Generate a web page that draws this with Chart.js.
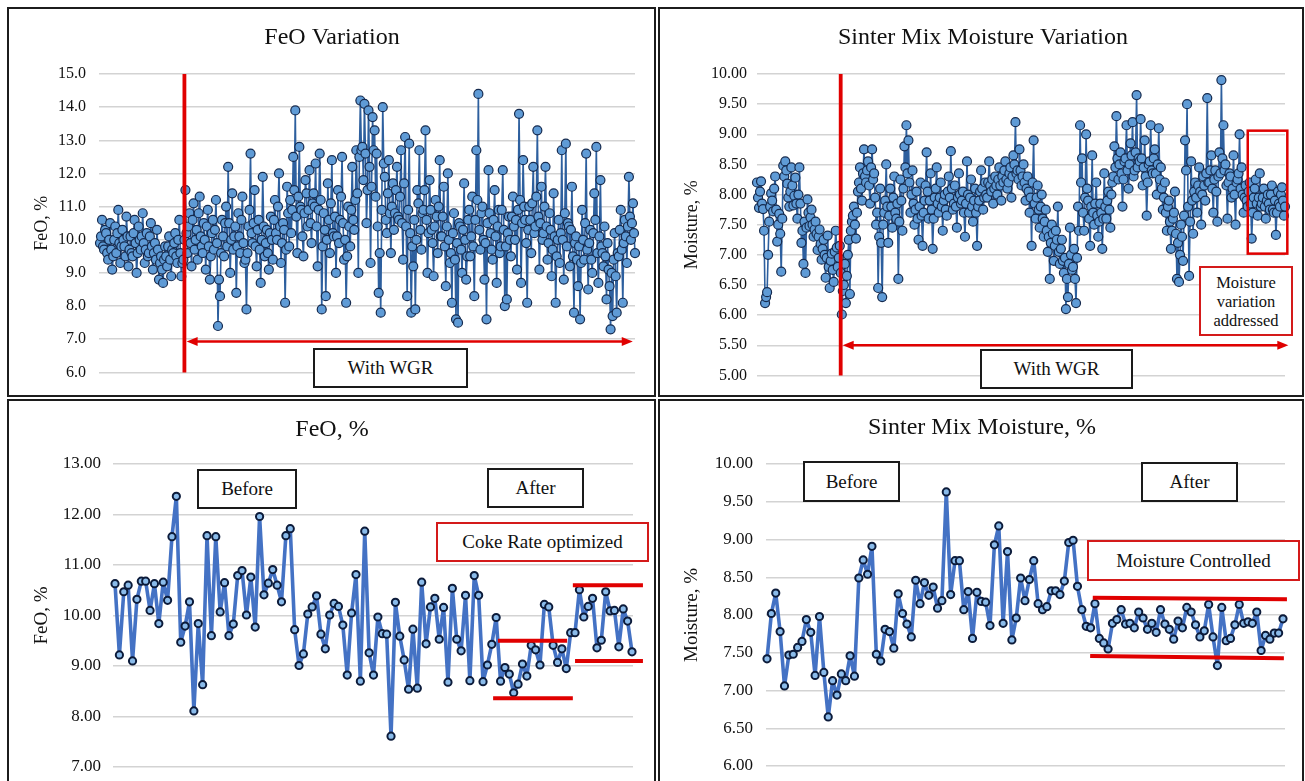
<!DOCTYPE html>
<html><head><meta charset="utf-8">
<script src="https://cdn.jsdelivr.net/npm/chart.js@4.4.1/dist/chart.umd.min.js"></script>
<style>
html,body{margin:0;padding:0;background:#fff;width:1305px;height:781px;overflow:hidden;position:relative;}
.panel{position:absolute;box-sizing:border-box;border:2px solid #1c1c1c;}
canvas{position:absolute;}
.box{position:absolute;box-sizing:border-box;background:#fff;display:flex;align-items:center;justify-content:center;text-align:center;font-family:'Liberation Serif','Times New Roman',serif;font-size:19px;color:#111;z-index:5;}
.blk{border:2px solid #1a1a1a;}
.red{border:2px solid #d41a1a;}
</style></head><body>
<div class="panel" style="left:7px;top:7px;width:649px;height:390px"></div>
<div class="panel" style="left:658px;top:7px;width:646px;height:390px"></div>
<div class="panel" style="left:7px;top:399px;width:649px;height:420px"></div>
<div class="panel" style="left:658px;top:399px;width:646px;height:420px"></div>
<canvas id="c1"></canvas><canvas id="c2"></canvas><canvas id="c3"></canvas><canvas id="c4"></canvas>
<div class="box blk" style="left:313px;top:348px;width:155px;height:40px">With WGR</div>
<div class="box blk" style="left:980px;top:349px;width:153px;height:40px">With WGR</div>
<div class="box red" style="left:1199px;top:266px;width:94px;height:70px;font-size:16.5px;line-height:19px">Moisture<br>variation<br>addressed</div>
<div class="box blk" style="left:197px;top:469px;width:100px;height:40px">Before</div>
<div class="box blk" style="left:487px;top:468px;width:97px;height:40px">After</div>
<div class="box red" style="left:436px;top:522px;width:213px;height:40px">Coke Rate optimized</div>
<div class="box blk" style="left:803px;top:461px;width:97px;height:41px">Before</div>
<div class="box blk" style="left:1141px;top:462px;width:97px;height:40px">After</div>
<div class="box red" style="left:1087px;top:540px;width:213px;height:41px">Moisture Controlled</div>
<script>
const SERIF = "'Liberation Serif','Times New Roman',serif";
const RED = '#e00000';

// ---- Data ----
const feoVariation = [
9.9,10.1,10.6,9.8,9.7,10.3,10.2,9.6,9.4,10.0,10.5,9.7,9.1,9.5,10.0,10.4,9.6,10.2,10.9,9.9,9.3,9.8,10.3,10.0,9.8,9.5,10.7,10.1,9.2,9.7,10.1,9.6,9.5,10.2,10.6,9.9,9.0,9.6,10.4,10.0,9.7,10.1,
10.8,9.9,9.3,9.7,10.2,9.5,9.6,10.1,10.5,9.8,9.1,9.6,9.9,9.4,10.3,9.7,8.8,9.3,9.5,9.1,8.7,9.4,9.8,9.5,9.2,9.8,10.1,9.4,8.9,9.7,9.6,9.9,10.2,9.5,9.3,10.0,10.6,9.6,8.9,9.3,9.4,10.0,
11.5,10.2,9.6,10.4,10.8,9.9,9.2,10.6,11.1,9.7,10.0,10.3,9.4,10.8,11.3,10.1,9.8,9.6,10.5,10.0,9.1,10.4,10.9,9.8,8.8,9.5,10.2,10.6,9.7,10.3,11.2,9.9,7.4,8.8,8.3,9.6,10.6,10.1,9.5,10.5,11.0,9.8,
12.2,10.5,9.0,10.0,11.4,9.7,10.1,10.4,8.4,9.8,10.8,10.1,9.6,10.6,11.3,9.9,9.3,9.4,7.9,9.6,10.4,10.9,12.6,10.2,9.9,10.5,11.5,9.8,9.2,10.3,10.6,9.7,8.7,10.0,11.9,10.4,9.5,9.9,10.3,9.6,9.1,10.2,
10.7,10.0,9.4,10.6,11.2,10.2,10.0,11.0,12.0,10.4,9.3,9.9,10.5,10.3,8.1,9.7,11.6,10.8,9.8,11.2,10.2,10.9,12.5,11.5,13.9,10.7,9.6,11.3,12.8,11.0,10.9,10.1,9.5,10.8,11.8,11.4,10.4,10.9,12.1,10.5,9.9,11.1,
11.4,11.0,12.3,10.4,9.2,10.9,12.6,11.2,7.9,9.8,10.8,10.3,8.3,10.0,11.7,10.6,9.6,11.1,12.4,10.2,10.1,10.7,9.0,10.1,11.5,9.9,10.6,11.3,12.5,10.5,9.4,10.0,8.1,9.5,11.0,10.4,9.8,10.9,12.2,10.6,10.3,11.2,
12.7,11.4,9.0,12.5,14.2,12.7,12.8,11.8,14.1,12.6,10.5,11.5,13.9,12.2,9.3,11.6,13.7,12.7,13.3,11.3,12.6,10.4,8.4,9.6,7.8,10.9,14.0,12.3,11.9,10.6,10.2,11.4,12.4,10.8,9.6,11.0,11.7,10.3,10.8,11.5,12.2,10.7,
10.6,11.3,12.7,10.5,9.4,11.7,13.1,10.4,8.3,10.9,12.9,10.2,7.8,9.8,9.2,10.6,7.9,10.0,11.5,11.1,12.7,10.3,9.7,10.8,10.9,11.5,13.3,10.6,9.0,10.2,11.8,10.9,10.3,9.9,8.9,10.4,11.2,10.7,9.6,11.0,12.4,10.1,
10.1,10.7,11.6,9.8,8.6,10.4,12.0,10.0,9.3,9.6,8.1,10.2,10.8,9.4,7.6,9.9,7.5,10.5,10.4,9.7,9.0,10.3,11.7,10.0,8.8,9.5,10.6,10.9,9.5,10.1,11.3,9.8,8.3,10.6,12.7,11.2,14.4,10.3,9.7,10.8,11.0,10.0,
8.8,9.9,7.6,10.5,12.1,10.8,10.2,9.7,9.4,10.6,11.5,10.1,8.7,10.4,10.9,9.6,9.8,10.9,12.1,10.3,8.0,9.8,8.2,10.2,10.7,10.0,9.5,10.7,11.3,10.4,10.0,10.6,9.1,10.9,13.8,11.2,8.7,10.5,12.4,11.0,10.6,9.9,
8.1,10.3,11.0,10.6,9.6,11.1,12.2,10.2,10.4,11.3,13.3,10.7,9.1,10.5,11.6,10.0,10.2,11.0,12.2,10.4,9.4,9.9,10.8,10.3,8.9,9.7,11.4,10.1,8.1,9.5,10.0,10.6,9.3,10.2,12.7,10.0,8.8,10.8,12.9,9.8,10.5,10.4,
9.2,10.3,11.6,9.5,7.8,9.9,10.1,9.4,8.6,9.8,7.6,9.3,10.9,10.0,9.4,10.5,12.6,9.7,8.5,9.9,10.3,9.4,9.0,10.2,11.4,10.6,12.8,9.6,8.7,10.1,11.8,9.8,9.6,9.2,10.4,9.5,8.2,9.9,9.1,8.6,7.3,9.0,
7.7,9.4,10.2,8.9,7.8,9.6,9.5,10.3,10.9,9.7,8.1,9.9,10.6,10.1,9.3,10.4,11.9,10.7,10.0,10.5,11.1,10.2,9.6,10.1
];
const moistureVariation = [
8.20,7.95,7.78,8.05,8.22,7.85,7.76,7.40,6.20,6.30,6.38,7.00,7.55,7.80,8.02,7.90,7.72,8.10,8.30,7.75,
7.22,7.50,7.68,7.35,6.72,7.60,8.48,8.30,8.55,8.40,8.18,7.95,7.80,8.05,8.45,8.15,7.82,7.98,8.28,7.85,
7.60,8.00,8.45,7.85,7.20,7.40,6.85,7.55,6.70,7.45,7.92,7.70,7.48,7.62,7.75,7.50,7.30,7.42,7.55,7.35,
7.08,7.30,7.42,7.18,6.92,7.10,7.25,7.00,6.62,6.95,7.32,6.80,6.45,6.90,7.02,6.75,6.55,7.05,7.40,7.12,
6.80,6.95,7.15,6.70,6.01,6.40,6.50,6.85,6.20,6.65,7.00,7.25,6.35,7.40,7.55,7.65,7.80,7.50,7.27,7.70,
8.05,8.20,8.45,8.10,7.90,8.35,8.75,8.30,8.20,8.40,8.55,8.15,7.85,8.45,8.75,8.25,8.35,7.95,7.50,7.70,
6.45,7.30,8.10,7.20,6.30,7.50,7.70,7.90,8.50,7.80,7.20,7.65,8.10,7.80,7.45,7.95,8.30,7.70,7.60,7.85,
6.60,7.55,8.25,7.90,7.40,8.10,8.80,8.45,9.15,8.35,8.90,8.20,7.70,8.00,8.40,7.85,7.50,7.75,8.05,7.60,
7.25,7.80,8.20,7.65,7.15,7.70,7.90,8.15,8.70,8.05,7.60,7.90,8.35,7.75,7.10,7.60,7.95,8.10,8.45,7.85,
7.70,7.95,8.20,7.80,7.40,7.90,8.00,7.75,7.65,8.05,8.30,7.95,8.72,8.10,7.75,7.85,8.15,7.80,7.45,7.95,
8.35,8.00,7.85,7.90,8.05,7.70,7.30,7.85,8.55,8.00,7.70,7.95,8.25,7.80,7.55,7.90,8.10,7.70,7.15,7.80,
7.90,8.05,8.40,8.10,7.75,7.95,8.20,8.00,7.95,8.20,8.55,8.15,8.05,8.25,7.85,8.10,8.30,8.15,8.00,8.25,
8.45,8.15,7.90,8.30,8.20,8.40,8.55,8.25,8.10,8.20,8.35,8.45,7.95,8.30,8.65,8.50,9.20,8.35,8.40,8.25,
8.75,8.40,8.15,8.30,8.50,8.20,7.90,8.10,8.30,8.05,7.70,7.95,7.15,8.20,8.90,7.85,7.60,7.95,8.15,7.75,
7.45,7.80,8.00,7.60,7.30,7.55,7.75,7.40,7.05,7.30,6.60,7.20,7.50,7.35,6.90,7.15,7.40,7.25,7.80,7.05,
6.85,7.10,7.25,6.90,6.70,6.95,6.10,6.60,6.30,6.85,7.45,7.00,6.75,6.80,7.10,6.60,6.20,6.95,7.80,7.40,
9.15,8.20,8.60,7.70,7.40,7.95,9.00,8.10,7.90,7.60,7.15,7.80,8.65,7.70,7.50,7.85,8.20,7.65,7.30,7.55,
7.85,7.70,7.10,7.60,8.35,7.80,7.60,7.90,8.05,7.75,7.45,8.00,8.20,8.30,8.80,8.45,9.30,8.60,8.25,8.50,
8.70,8.35,7.80,8.25,8.55,8.60,9.15,8.40,8.10,8.50,8.85,8.65,9.20,8.30,8.40,8.70,9.65,8.45,8.60,8.55,
9.25,8.60,8.15,8.45,8.90,8.30,7.65,8.20,8.50,8.55,9.15,8.40,8.35,8.60,8.75,8.35,8.00,8.50,9.10,8.25,
8.45,8.10,7.75,7.95,8.20,7.70,7.40,7.80,7.90,7.55,7.10,7.40,7.60,7.70,8.05,7.35,6.60,7.20,6.55,7.00,
7.50,7.30,6.90,7.65,8.90,8.40,9.50,7.80,6.65,7.55,8.55,7.90,7.35,8.05,8.20,7.95,7.70,8.15,8.45,8.05,
7.50,8.00,8.30,8.15,7.90,8.35,9.60,8.20,8.20,8.40,8.65,8.10,7.70,8.25,8.40,8.05,7.55,8.30,8.70,8.35,
9.90,8.60,9.15,8.40,8.50,8.15,7.60,8.20,8.35,8.30,7.95,8.10,8.65,8.00,7.50,8.20,8.25,8.35,9.00,8.10,
8.45,8.00,7.70,7.95,8.15,7.90,7.80,8.05,8.20,7.85,7.27,7.70,7.95,8.10,8.25,7.85,7.65,7.95,8.35,7.80,
7.85,7.95,8.10,7.80,7.60,7.90,8.00,7.85,7.75,8.00,8.15,7.75,7.70,7.90,7.33,7.70,8.05,7.85,7.80,8.00,
8.12,7.90,7.65,7.80,7.95,8.05,7.85,7.75
];
const feoBeforeAfter = [
10.63,9.22,10.47,10.60,9.10,10.32,10.68,10.68,10.10,10.63,
9.84,10.66,10.30,11.56,12.36,9.47,9.79,10.27,8.11,9.84,
8.63,11.58,9.60,11.56,10.07,10.65,9.60,9.83,10.79,10.89,
10.01,10.76,9.77,11.96,10.41,10.64,10.91,10.60,10.27,11.58,
11.72,9.72,9.01,9.24,10.03,10.17,10.39,9.63,9.34,10.01,
10.24,10.18,9.81,8.82,10.05,10.81,8.70,11.67,9.26,8.82,
9.97,9.64,9.63,7.61,10.26,9.59,9.12,8.54,9.73,8.56,
10.66,9.44,10.17,10.34,9.53,10.16,8.68,10.54,9.53,9.30,
10.40,8.71,10.79,10.40,8.69,9.02,9.43,9.96,8.70,8.97,
8.84,8.47,8.64,9.04,8.80,9.41,9.32,9.02,10.22,10.17,
9.41,9.07,9.34,8.95,9.66,9.66,10.51,9.97,10.18,10.34,
9.36,9.51,10.47,10.09,10.10,9.38,10.13,9.89,9.28
];
const moistureBeforeAfter = [
7.42,8.02,8.29,7.78,7.06,7.47,7.48,7.57,7.65,7.94,
7.77,7.20,7.98,7.24,6.65,7.13,6.94,7.22,7.13,7.46,
7.19,8.49,8.73,8.54,8.91,7.48,7.39,7.81,7.78,7.56,
8.28,8.02,7.88,7.71,8.46,8.15,8.43,8.26,8.37,8.09,
8.19,9.63,8.27,8.72,8.72,8.07,8.31,7.69,8.30,8.18,
8.17,7.86,8.93,9.18,7.89,8.84,7.67,7.96,8.49,8.19,
8.47,8.72,8.15,8.07,8.11,8.32,8.32,8.27,8.45,8.96,
8.99,8.38,8.07,7.85,7.83,8.15,7.69,7.63,7.55,7.89,
7.94,8.07,7.88,7.89,7.83,8.04,7.96,7.81,7.89,7.77,
8.07,7.88,7.81,7.68,7.92,7.83,8.10,8.04,7.87,7.71,
7.79,8.14,7.71,7.33,8.10,7.66,7.69,7.87,8.14,7.89,
7.91,7.89,8.04,7.53,7.73,7.68,7.76,7.76,7.95
];
// annotation positions in data units (x = sample index, y = value)
const feoWgrStart = [83.0];
const feoWgrArrow = [{x0:85.2, x1:523.8, y:6.93}];
const moistWgrStart = [82.9];
const moistWgrArrow = [{x0:84.9, x1:526.3, y:5.50}];
const moistAddressedBox = [{x0:486.1, x1:525.3, y0:7.02, y1:9.06}];
const feoLimitLines = [
  {x0:87.4, x1:103.2, y0:9.50, y1:9.50},
  {x0:86.3, x1:104.5, y0:8.36, y1:8.36},
  {x0:104.5, x1:120.5, y0:10.60, y1:10.60},
  {x0:105.0, x1:120.5, y0:9.10, y1:9.10}
];
const moistLimitLines = [
  {x0:74.5, x1:118.9, y0:8.229, y1:8.208},
  {x0:73.9, x1:118.2, y0:7.456, y1:7.426}
];

function drawMarks(chart, m) {
  const ctx = chart.ctx, xs = chart.scales.x, ys = chart.scales.y, ca = chart.chartArea;
  ctx.save();
  ctx.strokeStyle = RED; ctx.fillStyle = RED; ctx.lineCap = 'butt';
  (m.vlines || []).forEach(v => {
    const x = xs.getPixelForValue(v);
    ctx.lineWidth = 3.8; ctx.beginPath(); ctx.moveTo(x, ca.top); ctx.lineTo(x, ca.bottom); ctx.stroke();
  });
  (m.arrows || []).forEach(a => {
    const x0 = xs.getPixelForValue(a.x0), x1 = xs.getPixelForValue(a.x1), y = ys.getPixelForValue(a.y);
    const h = 11, w = 4.5;
    ctx.lineWidth = 2.5; ctx.beginPath(); ctx.moveTo(x0 + h - 1, y); ctx.lineTo(x1 - h + 1, y); ctx.stroke();
    ctx.beginPath(); ctx.moveTo(x0, y); ctx.lineTo(x0 + h, y - w); ctx.lineTo(x0 + h, y + w); ctx.closePath(); ctx.fill();
    ctx.beginPath(); ctx.moveTo(x1, y); ctx.lineTo(x1 - h, y - w); ctx.lineTo(x1 - h, y + w); ctx.closePath(); ctx.fill();
  });
  (m.rects || []).forEach(r => {
    const x0 = xs.getPixelForValue(r.x0), x1 = xs.getPixelForValue(r.x1);
    const y0 = ys.getPixelForValue(r.y0), y1 = ys.getPixelForValue(r.y1);
    ctx.lineWidth = 2.5; ctx.strokeRect(x0, y1, x1 - x0, y0 - y1);
  });
  (m.segs || []).forEach(s => {
    ctx.lineWidth = 4; ctx.beginPath();
    ctx.moveTo(xs.getPixelForValue(s.x0), ys.getPixelForValue(s.y0));
    ctx.lineTo(xs.getPixelForValue(s.x1), ys.getPixelForValue(s.y1)); ctx.stroke();
  });
  ctx.restore();
}

function makeChart(id, p) {
  const cv = document.getElementById(id);
  const c = p.canvas, a = p.area;
  cv.style.left = c.x + 'px'; cv.style.top = c.y + 'px';
  cv.width = c.w; cv.height = c.h;
  const tLH = p.titleSize * 1.2;
  const tPadTop = p.titleY - c.y - tLH / 2;
  const tPadBottom = (a.t - c.y) - tPadTop - tLH;
  const axisW = a.l - c.x;
  const yPad = Math.max(0, p.yTitleX - c.x - p.yTitleSize / 2);
  const st = p.style;
  return new Chart(cv, {
    type: 'line',
    data: { datasets: [{
      data: p.values.map((v, i) => ({x: i, y: v})),
      borderColor: st.line, borderWidth: st.lineW, borderJoinStyle: 'round', borderCapStyle: 'round',
      tension: 0, clip: false,
      pointRadius: st.r, pointHoverRadius: st.r, pointBackgroundColor: st.fill,
      pointBorderColor: st.edge, pointBorderWidth: st.edgeW
    }]},
    options: {
      responsive: false, animation: false, events: [],
      layout: { padding: { left: 0, top: 0, right: c.x + c.w - a.r, bottom: c.y + c.h - a.b } },
      plugins: {
        legend: { display: false }, tooltip: { enabled: false },
        title: { display: true, text: p.title, color: '#111',
          font: { family: SERIF, size: p.titleSize, weight: 'normal', lineHeight: 1.2 },
          padding: { top: tPadTop, bottom: tPadBottom } }
      },
      scales: {
        x: { type: 'linear', display: false, min: p.xMin, max: p.xMax },
        y: { min: p.yMin, max: p.yMax, border: { display: false },
          grid: { color: '#d3d3d3', lineWidth: 1.5, drawTicks: false },
          ticks: { stepSize: p.yStep, padding: a.l - p.labelRight, color: '#111',
            font: { family: SERIF, size: p.tickSize }, callback: v => Number(v).toFixed(p.dec) },
          title: { display: true, text: p.yTitle, color: '#111',
            font: { family: SERIF, size: p.yTitleSize, lineHeight: 1 }, padding: { top: yPad, bottom: 0 } },
          afterFit: s => { s.width = axisW; }
        }
      }
    },
    plugins: [{ id: 'marks', afterDatasetsDraw(chart) { drawMarks(chart, p.marks); } }]
  });
}

const topStyle = { line: '#2d5f9e', lineW: 1.6, r: 4.5, fill: '#5f9bd6', edge: '#152a4e', edgeW: 1.2 };
const botStyle = { line: '#4472c4', lineW: 3.6, r: 3.6, fill: '#8abbea', edge: '#0c1b3a', edgeW: 2 };

makeChart('c1', {
  canvas: {x: 29, y: 9, w: 625, h: 386}, area: {l: 99, t: 74, r: 635, b: 376},
  title: 'FeO Variation', titleSize: 24, titleY: 38,
  yTitle: 'FeO, %', yTitleSize: 18, yTitleX: 42, labelRight: 86, tickSize: 16,
  yMin: 6, yMax: 15, yStep: 1, dec: 1, xMin: -0.98, xMax: 526.0,
  values: feoVariation, style: topStyle,
  marks: { vlines: feoWgrStart, arrows: feoWgrArrow }
});
makeChart('c2', {
  canvas: {x: 681, y: 9, w: 621, h: 386}, area: {l: 757, t: 74, r: 1285, b: 376},
  title: 'Sinter Mix Moisture Variation', titleSize: 24, titleY: 38,
  yTitle: 'Moisture, %', yTitleSize: 18, yTitleX: 692, labelRight: 747, tickSize: 16,
  yMin: 5, yMax: 10, yStep: 0.5, dec: 2, xMin: 0, xMax: 523.0,
  values: moistureVariation, style: topStyle,
  marks: { vlines: moistWgrStart, arrows: moistWgrArrow, rects: moistAddressedBox }
});
makeChart('c3', {
  canvas: {x: 31, y: 401, w: 623, h: 400}, area: {l: 113, t: 464, r: 633, b: 767},
  title: 'FeO, %', titleSize: 24, titleY: 430,
  yTitle: 'FeO, %', yTitleSize: 19, yTitleX: 42, labelRight: 101, tickSize: 17,
  yMin: 7, yMax: 13, yStep: 1, dec: 2, xMin: -0.46, xMax: 118.23,
  values: feoBeforeAfter, style: botStyle,
  marks: { segs: feoLimitLines }
});
makeChart('c4', {
  canvas: {x: 679, y: 401, w: 623, h: 400}, area: {l: 766, t: 464, r: 1285, b: 766},
  title: 'Sinter Mix Moisture, %', titleSize: 24, titleY: 428,
  yTitle: 'Moisture, %', yTitleSize: 19, yTitleX: 692, labelRight: 753, tickSize: 17,
  yMin: 6, yMax: 10, yStep: 0.5, dec: 2, xMin: -0.23, xMax: 118.46,
  values: moistureBeforeAfter, style: botStyle,
  marks: { segs: moistLimitLines }
});
</script>
</body></html>
